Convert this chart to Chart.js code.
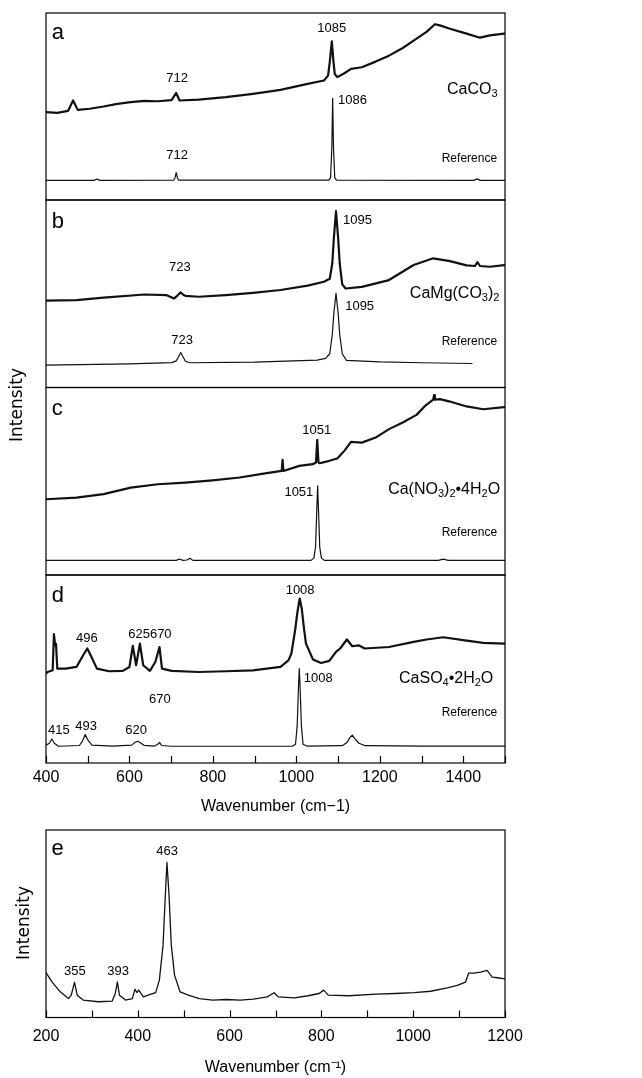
<!DOCTYPE html>
<html>
<head>
<meta charset="utf-8">
<script src="https://cdn.jsdelivr.net/npm/chart.js@4.4.1/dist/chart.umd.min.js"></script>
<style>
  body { margin: 0; background: #fff; width: 642px; height: 1078px; position: relative; overflow: hidden; }
  canvas { position: absolute; left: 0; }
</style>
</head>
<body>
<canvas id="pa" width="642" height="205" style="top:0px"></canvas>
<canvas id="pb" width="642" height="198" style="top:195px"></canvas>
<canvas id="pc" width="642" height="240" style="top:340px"></canvas>
<canvas id="pd" width="642" height="260" style="top:570px"></canvas>
<canvas id="pe" width="642" height="253" style="top:825px"></canvas>
<script>
// spectra: [wavenumber, relative intensity 0-100 within each panel]
const aMeasured = [[400,47],[427,46.6],[453,47.7],[465,53.2],[476,48.2],[505,48.8],[538,50],[571,51.4],[603,52.3],[636,53],[668,52.8],[701,53.4],[712,57.3],[720,53.2],[766,53.7],[831,55],[896,56.8],[962,58.9],[1027,62.1],[1066,63.9],[1076,66.5],[1080,73.7],[1085,84.9],[1089,73.7],[1092,67.4],[1098,65.7],[1115,67.8],[1131,70.1],[1157,71],[1190,74],[1222,77.2],[1255,81.3],[1281,85.2],[1312,89.9],[1332,94],[1344,93.4],[1368,91.6],[1408,89],[1440,86.8],[1464,88],[1498,89],[1500,89]];
const aReference = [[400,10.5],[515,10.5],[522,11.2],[529,10.5],[706,10.6],[709,11.8],[712,14.6],[715,11.8],[718,10.6],[1078,10.6],[1082,12],[1085,28],[1087,54.4],[1089,28],[1092,12],[1096,10.6],[1425,10.5],[1433,11.3],[1441,10.5],[1500,10.5]];

const bMeasured = [[400,46.3],[473,46.6],[538,47.9],[636,49.6],[688,49.3],[707,47.5],[715,49],[722,50.7],[729,49.5],[734,48.9],[766,48.4],[831,49.3],[896,50.5],[962,52],[1027,54.3],[1066,56.4],[1080,58],[1086,66],[1090,80],[1095,94.1],[1100,80],[1104,66],[1110,55],[1118,52.8],[1157,53.7],[1222,57.3],[1281,65.3],[1328,68.9],[1368,67.4],[1408,65.1],[1428,64.8],[1434,66.9],[1440,64.8],[1464,64.4],[1498,65.3],[1500,65.3]];
const bReference = [[400,11.9],[600,12.6],[701,13.3],[712,14.2],[718,16.5],[723,18.7],[728,16.5],[734,14],[745,13.2],[900,13.5],[1050,14.6],[1070,15.5],[1080,18],[1086,28],[1090,40],[1095,50.2],[1100,40],[1104,28],[1110,18],[1120,14.5],[1200,13.7],[1300,13.2],[1422,12.8]];

const cMeasured = [[400,40.4],[473,41.3],[538,43.1],[603,46.6],[668,48.4],[734,49.3],[799,50.5],[864,52],[929,54.3],[965,55.5],[967,61.4],[969,55.5],[1007,58.2],[1039,59.1],[1047,60],[1050,72.1],[1053,60],[1056,59.6],[1079,60.9],[1098,62.1],[1115,66.2],[1131,71],[1157,70.6],[1190,73.3],[1222,77.8],[1255,81.3],[1288,85.4],[1310,90.5],[1328,93.5],[1330,96],[1332,93.5],[1344,93.8],[1368,92.5],[1408,89.9],[1448,88.4],[1498,89.5],[1500,89.5]];
const cReference = [[400,7.8],[712,7.8],[720,8.5],[728,7.8],[738,8],[745,8.9],[752,7.8],[1035,7.8],[1042,9],[1046,15],[1049,35],[1051,47.5],[1053,35],[1056,15],[1060,9],[1067,7.8],[1340,7.8],[1352,8.5],[1364,7.8],[1500,7.8]];

const dMeasured = [[400,47.5],[404,48.4],[416,49.3],[419,68.5],[422,62.6],[424,63.5],[427,50.2],[447,50.2],[473,51.1],[489,57.3],[499,60.9],[509,56.4],[522,50.2],[551,48.8],[584,49],[600,51.1],[608,62.3],[616,52],[625,63.5],[633,52],[649,49],[662,53.7],[672,61.7],[678,50.2],[701,49],[766,48.4],[831,48.8],[896,49.3],[962,51.1],[981,54.6],[988,58.2],[997,70.6],[1002,79.5],[1008,87.5],[1013,82],[1018,72],[1023,63.5],[1040,55],[1059,53.2],[1079,54.3],[1095,59.1],[1105,60.9],[1121,65.7],[1134,62.1],[1149,62.6],[1164,60.9],[1222,61.7],[1281,64.4],[1312,65.7],[1352,66.9],[1408,65.1],[1448,63.9],[1498,63.5],[1500,63.5]];
const dReference = [[400,9.5],[408,10.5],[414,12.8],[420,10.5],[430,8.9],[480,9.3],[487,11.5],[494,15.1],[501,12],[510,9.5],[560,9],[605,9.5],[614,11],[620,11.6],[626,10.8],[635,9.4],[660,9],[667,9.8],[672,11],[677,9.3],[700,8.9],[990,8.9],[998,10],[1002,20],[1005,40],[1007,50.2],[1009,40],[1012,20],[1016,10],[1025,9],[1110,9.2],[1122,11],[1128,13.5],[1134,14.8],[1140,13],[1150,10.5],[1165,9.2],[1300,9],[1500,9]];

const eMeasured = [[200,24],[213,19],[231,13.7],[249,10.1],[255,11.9],[262,18.7],[268,11.9],[281,9.3],[314,8.4],[344,8.7],[351,12.8],[355.5,19],[360,11.9],[373,9.3],[388,10.1],[394,15.1],[398,13.3],[402,14.6],[412,11],[427,12.3],[439,13.3],[447,19.9],[455,38.6],[460,65.3],[463.5,82.7],[468,65.3],[473,38.6],[480,22.6],[492,13.7],[510,11.9],[534,10.1],[563,9.3],[593,9.6],[623,9.3],[652,9.8],[682,11],[697,13.2],[706,11],[741,10.5],[771,11.6],[795,12.8],[805,14.6],[815,11.9],[860,11.6],[919,12.5],[961,12.8],[1002,13.3],[1038,14],[1074,15.8],[1096,17.1],[1114,18.9],[1121,23.7],[1132,23.7],[1147,24.2],[1161,25.1],[1172,21.5],[1183,21.2],[1200,20.6]];

// text on the panels: [text, wavenumber, intensity, align, font px]
const aNotes = [['a',414,85.9,'left',22],['1085',1085,90,'center',13],['712',714,63.3,'center',13],['1086',1100,51.2,'left',13],['712',714,22.1,'center',13],['Reference',1481,20.5,'right',12]];
const bNotes = [['b',414,84.9,'left',22],['1095',1112,87.4,'left',13],['723',721,62.3,'center',13],['1095',1117,41.5,'left',13],['723',726,23.4,'center',13],['Reference',1481,22.7,'right',12]];
const cNotes = [['c',414,85.3,'left',22],['1051',1049,75.4,'center',13],['1051',1006,42.3,'center',13],['Reference',1481,21,'right',12]];
const dNotes = [['d',414,85.8,'left',22],['1008',1009,90.1,'center',13],['496',498,64.5,'center',13],['625670',649,66.6,'center',13],['1008',1018,43.2,'left',13],['670',673,32.1,'center',13],['Reference',1481,25,'right',12],['415',431,15.6,'center',13],['493',496,17.7,'center',13],['620',616,15.6,'center',13]];
const eNotes = [['e',212,86.6,'left',22],['463',464,86.8,'center',13],['355',263,22.6,'center',13],['393',357,22.6,'center',13]];

// formulas: pieces with 1 = subscript
const aFormula = [[['CaCO'],['3',1]],1361,56.5];
const bFormula = [[['CaMg(CO'],['3',1],[')'],['2',1]],1272,47.6];
const cFormula = [[['Ca(NO'],['3',1],[')'],['2',1],['\u20224H'],['2',1],['O']],1220,43.2];
const dFormula = [[['CaSO'],['4',1],['\u20222H'],['2',1],['O']],1246,42.4];

Chart.defaults.font.family = "'Liberation Sans', Arial, sans-serif";
Chart.defaults.color = '#000';

const panelDeco = {
  id: 'panelDeco',
  afterDatasetsDraw(chart, args, opts) {
    const { ctx, chartArea: ca, scales: { x, y } } = chart;
    ctx.save();
    ctx.strokeStyle = '#000';
    ctx.lineWidth = 1.2;
    ctx.strokeRect(ca.left, ca.top, ca.right - ca.left, ca.bottom - ca.top);
    if (opts.ticks) {
      x.ticks.forEach(t => {
        const px = Math.round(x.getPixelForValue(t.value)) + 0.5;
        ctx.beginPath();
        ctx.moveTo(px, ca.bottom);
        ctx.lineTo(px, ca.bottom - 7);
        ctx.stroke();
      });
    }
    ctx.fillStyle = '#000';
    ctx.textBaseline = 'alphabetic';
    (opts.notes || []).forEach(([t, wn, v, align, size]) => {
      ctx.font = size + "px 'Liberation Sans', Arial, sans-serif";
      ctx.textAlign = align;
      ctx.fillText(t, x.getPixelForValue(wn), y.getPixelForValue(v));
    });
    if (opts.formula) {
      const [parts, wn, v] = opts.formula;
      let px = x.getPixelForValue(wn);
      const py = y.getPixelForValue(v);
      ctx.textAlign = 'left';
      parts.forEach(([t, sub]) => {
        ctx.font = (sub ? 11 : 16) + "px 'Liberation Sans', Arial, sans-serif";
        ctx.fillText(t, px, py + (sub ? 3 : 0));
        px += ctx.measureText(t).width;
      });
    }
    if (opts.yTitle) {
      ctx.translate(opts.yTitle.x, opts.yTitle.y);
      ctx.rotate(-Math.PI / 2);
      ctx.font = "17px 'DejaVu Sans', sans-serif";
      ctx.textAlign = 'center';
      ctx.textBaseline = 'middle';
      ctx.fillText('Intensity', 0, 0);
    }
    ctx.restore();
  }
};

function line(points, width) {
  return {
    data: points.map(p => ({ x: p[0], y: p[1] })),
    borderColor: '#111',
    borderWidth: width,
    borderJoinStyle: 'round',
    pointRadius: 0,
    tension: 0,
    fill: false
  };
}

function makePanel(id, series, deco, pad, xMin, xMax, axis) {
  const xScale = {
    type: 'linear', min: xMin, max: xMax,
    display: !!axis,
    grid: { display: false, drawTicks: false },
    border: { display: false },
    ticks: {
      stepSize: 100, autoSkip: false, maxRotation: 0,
      padding: axis ? axis.pad : 0,
      font: { size: 16 },
      callback: v => (v % 200 === 0 ? v : '')
    },
    title: axis ? { display: true, text: axis.title, font: { size: 16 }, padding: { top: axis.titlePad, bottom: 0 } } : { display: false }
  };
  return new Chart(document.getElementById(id), {
    type: 'line',
    data: { datasets: series },
    options: {
      responsive: false,
      animation: false,
      devicePixelRatio: 1,
      layout: { padding: { left: 46, right: 137, top: pad[0], bottom: pad[1] } },
      scales: { x: xScale, y: { display: false, min: 0, max: 100 } },
      plugins: { legend: { display: false }, tooltip: { enabled: false }, panelDeco: deco }
    },
    plugins: [panelDeco]
  });
}

makePanel('pa', [line(aMeasured, 2.2), line(aReference, 1.2)], { notes: aNotes, formula: aFormula }, [13, 5], 400, 1500);
makePanel('pb', [line(bMeasured, 2.2), line(bReference, 1.2)], { notes: bNotes, formula: bFormula }, [5, 5.5], 400, 1500);
makePanel('pc', [line(cMeasured, 2.2), line(cReference, 1.2)], { notes: cNotes, formula: cFormula, yTitle: { x: 18, y: 65 } }, [47.5, 5], 400, 1500);
makePanel('pd', [line(dMeasured, 2.2), line(dReference, 1.2)], { notes: dNotes, formula: dFormula, ticks: true }, [5, 13.9], 400, 1500,
  { pad: 5.4, title: 'Wavenumber (cm\u22121)', titlePad: 3.9 });
makePanel('pe', [line(eMeasured, 1.3)], { notes: eNotes, ticks: true, yTitle: { x: 25, y: 98 } }, [5, 0.9], 200, 1200,
  { pad: 9.9, title: 'Wavenumber (cm\u207B\u00B9)', titlePad: 1.4 });
</script>
</body>
</html>
